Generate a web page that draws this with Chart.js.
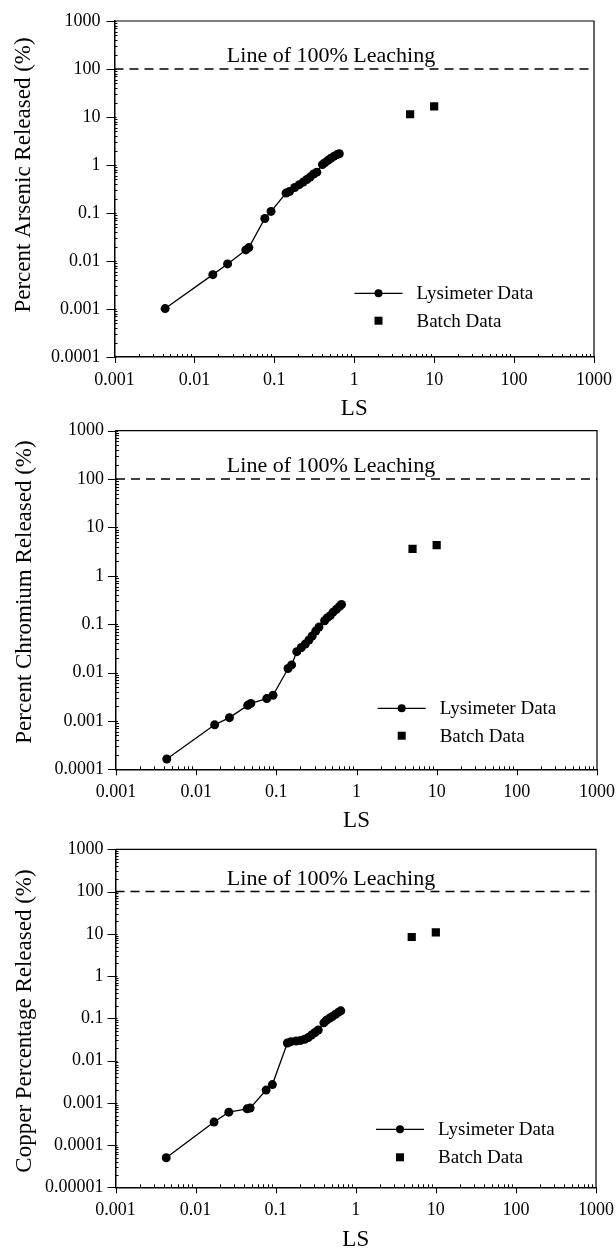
<!DOCTYPE html>
<html>
<head>
<meta charset="utf-8">
<script src="https://cdn.jsdelivr.net/npm/chart.js@4.4.0/dist/chart.umd.min.js"></script>
<style>
html,body{margin:0;padding:0;background:#fff;width:616px;height:1249px;overflow:hidden}
.panel{position:absolute;left:0;width:616px}
canvas{display:block}
</style>
</head>
<body>
<div class="panel" style="top:0px"><canvas id="c1" width="616" height="415"></canvas></div>
<div class="panel" style="top:415px"><canvas id="c2" width="616" height="420"></canvas></div>
<div class="panel" style="top:835px"><canvas id="c3" width="616" height="414"></canvas></div>
<script>
// ---------- DATA ----------
const lsLysimeter = [0.0043, 0.017, 0.026, 0.044, 0.048, 0.076, 0.091, 0.14, 0.155, 0.18, 0.205, 0.23, 0.255, 0.28, 0.31, 0.34, 0.40, 0.43, 0.47, 0.51, 0.56, 0.61, 0.65];
const arsenicLysimeter = [0.00102, 0.0052, 0.0087, 0.017, 0.019, 0.077, 0.108, 0.26, 0.28, 0.34, 0.39, 0.44, 0.50, 0.56, 0.65, 0.71, 1.02, 1.12, 1.25, 1.38, 1.53, 1.65, 1.72];
const chromiumLysimeter = [0.000163, 0.00083, 0.00117, 0.0021, 0.0023, 0.0029, 0.0034, 0.0121, 0.0144, 0.027, 0.033, 0.039, 0.047, 0.057, 0.072, 0.087, 0.118, 0.135, 0.15, 0.177, 0.203, 0.23, 0.255];
const copperLysimeter = [0.00005, 0.00035, 0.0006, 0.00072, 0.00075, 0.002, 0.0027, 0.026, 0.028, 0.029, 0.030, 0.032, 0.035, 0.040, 0.046, 0.053, 0.078, 0.09, 0.10, 0.11, 0.125, 0.14, 0.15];
const lsBatch = [5, 10];
const arsenicBatch = [11.4, 16.7];
const chromiumBatch = [3.6, 4.3];
const copperBatch = [8.4, 10.8];
const leachLineLS = [0.001, 1000];
const leachLineValue = [100, 100];
const xTickValues = [0.001, 0.01, 0.1, 1, 10, 100, 1000];
const xTickLabels = ['0.001', '0.01', '0.1', '1', '10', '100', '1000'];
const yTickValues4 = [0.0001, 0.001, 0.01, 0.1, 1, 10, 100, 1000];
const yTickLabels4 = ['0.0001', '0.001', '0.01', '0.1', '1', '10', '100', '1000'];
const yTickValues5 = [0.00001, 0.0001, 0.001, 0.01, 0.1, 1, 10, 100, 1000];
const yTickLabels5 = ['0.00001', '0.0001', '0.001', '0.01', '0.1', '1', '10', '100', '1000'];
const yTitles = ['Percent Arsenic Released (%)', 'Percent Chromium Released (%)', 'Copper Percentage Released (%)'];
const xTitle = 'LS';
const legendLabels = ['Lysimeter Data', 'Batch Data'];
const leachLabel = 'Line of 100% Leaching';

// ---------- STYLE ----------
const FONT = "'Liberation Serif', 'Times New Roman', serif";
Chart.defaults.font.family = FONT;
Chart.defaults.color = '#000';

const pts = (xs, ys) => xs.map((x, i) => ({x: x, y: ys[i]}));

const decorPlugin = {
  id: 'decor',
  afterDraw(chart, args, o) {
    const ctx = chart.ctx;
    const a = chart.chartArea;
    const xs = chart.scales.x, ys = chart.scales.y;
    ctx.save();
    ctx.strokeStyle = '#000';
    ctx.fillStyle = '#000';
    // frame top & right
    ctx.lineWidth = 1.2;
    ctx.beginPath();
    ctx.moveTo(a.left, a.top); ctx.lineTo(a.right, a.top); ctx.lineTo(a.right, a.bottom);
    ctx.stroke();
    // ticks
    ctx.lineWidth = 1;
    ctx.beginPath();
    const xmin = xs.min, xmax = xs.max, ymin = ys.min, ymax = ys.max;
    for (let e = Math.round(Math.log10(xmin)); e <= Math.round(Math.log10(xmax)); e++) {
      for (let m = 1; m <= 9; m++) {
        const v = m * Math.pow(10, e);
        if (v > xmax * 1.0001) break;
        const px = Math.round(xs.getPixelForValue(v)) + 0.5;
        if (m === 1) { ctx.moveTo(px, a.bottom + 6); ctx.lineTo(px, a.bottom); }
        else { ctx.moveTo(px, a.bottom); ctx.lineTo(px, a.bottom - 3); }
      }
    }
    for (let e = Math.round(Math.log10(ymin)); e <= Math.round(Math.log10(ymax)); e++) {
      for (let m = 1; m <= 9; m++) {
        const v = m * Math.pow(10, e);
        if (v > ymax * 1.0001) break;
        const py = Math.round(ys.getPixelForValue(v)) + 0.5;
        if (m === 1) { ctx.moveTo(a.left - 8, py); ctx.lineTo(a.left + 2, py); }
        else { ctx.moveTo(a.left, py); ctx.lineTo(a.left + 3, py); }
      }
    }
    ctx.stroke();
    // leaching label
    ctx.font = '22px ' + FONT;
    ctx.textAlign = 'center';
    ctx.textBaseline = 'alphabetic';
    ctx.fillText(leachLabel, o.leachX, ys.getPixelForValue(100) - 7);
    // y title
    ctx.save();
    ctx.font = '23px ' + FONT;
    ctx.translate(o.titleX, o.titleY);
    ctx.rotate(-Math.PI / 2);
    ctx.textAlign = 'center';
    ctx.textBaseline = 'middle';
    ctx.fillText(o.yTitle, 0, 0);
    ctx.restore();
    // x title
    ctx.font = '23px ' + FONT;
    ctx.textAlign = 'center';
    ctx.textBaseline = 'middle';
    ctx.fillText(xTitle, xs.getPixelForValue(1), o.xTitleY);
    // legend
    const lx = a.left + o.legX, r1 = a.bottom - o.legY1, r2 = a.bottom - o.legY2;
    ctx.lineWidth = 1.2;
    ctx.beginPath(); ctx.moveTo(lx - 24, r1); ctx.lineTo(lx + 24, r1); ctx.stroke();
    ctx.beginPath(); ctx.arc(lx, r1, 4, 0, Math.PI * 2); ctx.fill();
    ctx.fillRect(lx - 4, r2 - 4, 8, 8);
    ctx.font = '19px ' + FONT;
    ctx.textAlign = 'left';
    ctx.textBaseline = 'middle';
    ctx.fillText(legendLabels[0], lx + 38, r1 + 1);
    ctx.fillText(legendLabels[1], lx + 38, r2 + 1);
    ctx.restore();
  }
};

function zeroPad(s) { s.paddingLeft = 0; s.paddingRight = 0; s.paddingTop = 0; s.paddingBottom = 0; }

function makeChart(id, lysY, batchY, yMin, yTV, yTL, geom, decor) {
  const canvas = document.getElementById(id);
  const H = canvas.height, W = canvas.width;
  const yW = 100, xH = 50;
  return new Chart(canvas, {
    type: 'scatter',
    data: {
      datasets: [
        { label: 'leach', data: pts(leachLineLS, leachLineValue), showLine: true, borderColor: '#000', borderWidth: 1.5, borderDash: [9, 6], pointRadius: 0, fill: false },
        { label: legendLabels[0], data: pts(lsLysimeter, lysY), showLine: true, borderColor: '#000', borderWidth: 1.3, pointRadius: 4.5, pointBackgroundColor: '#000', pointBorderColor: '#000', pointBorderWidth: 0, fill: false },
        { label: legendLabels[1], data: pts(lsBatch, batchY), showLine: false, pointStyle: 'rect', pointRadius: 5.8, pointBackgroundColor: '#000', pointBorderColor: '#000', pointBorderWidth: 0 }
      ]
    },
    options: {
      responsive: false,
      animation: false,
      devicePixelRatio: 1,
      layout: { padding: { left: geom.left - yW, right: W - geom.right, top: geom.top, bottom: H - geom.bottom - xH } },
      plugins: {
        legend: { display: false },
        tooltip: { enabled: false },
        decor: decor
      },
      scales: {
        x: {
          type: 'logarithmic', position: 'bottom', min: 0.001, max: 1000,
          grid: { display: false, drawTicks: false },
          border: { display: true, color: '#000', width: 1.5 },
          ticks: { font: { size: 18, family: FONT }, color: '#000', padding: 12, maxRotation: 0, autoSkip: false,
                   callback: (v, i) => xTickLabels[i] },
          afterBuildTicks: s => { s.ticks = xTickValues.map(v => ({ value: v })); },
          afterFit: s => { s.height = xH; zeroPad(s); }
        },
        y: {
          type: 'logarithmic', position: 'left', min: yMin, max: 1000,
          grid: { display: false, drawTicks: false },
          border: { display: true, color: '#000', width: 1.5 },
          ticks: { font: { size: 18, family: FONT }, color: '#000', padding: geom.yPad, autoSkip: false,
                   callback: (v, i) => yTL[i] },
          afterBuildTicks: s => { s.ticks = yTV.map(v => ({ value: v })); },
          afterFit: s => { s.width = yW; zeroPad(s); }
        }
      }
    },
    plugins: [decorPlugin]
  });
}

makeChart('c1', arsenicLysimeter, arsenicBatch, 0.0001, yTickValues4, yTickLabels4,
  { left: 114.5, right: 594, top: 21, bottom: 357, yPad: 14 },
  { yTitle: yTitles[0], titleX: 24, titleY: 175, xTitleY: 409, leachX: 331, legX: 264, legY1: 63.7, legY2: 36.3 });
makeChart('c2', chromiumLysimeter, chromiumBatch, 0.0001, yTickValues4, yTickLabels4,
  { left: 116, right: 597, top: 15.7, bottom: 354.3, yPad: 12 },
  { yTitle: yTitles[1], titleX: 25, titleY: 177, xTitleY: 406, leachX: 331, legX: 285.7, legY1: 61, legY2: 33.6 });
makeChart('c3', copperLysimeter, copperBatch, 0.00001, yTickValues5, yTickLabels5,
  { left: 115.5, right: 596, top: 14.3, bottom: 352.3, yPad: 12 },
  { yTitle: yTitles[2], titleX: 25, titleY: 186, xTitleY: 405, leachX: 331, legX: 284.5, legY1: 58, legY2: 30 });
</script>
</body>
</html>
